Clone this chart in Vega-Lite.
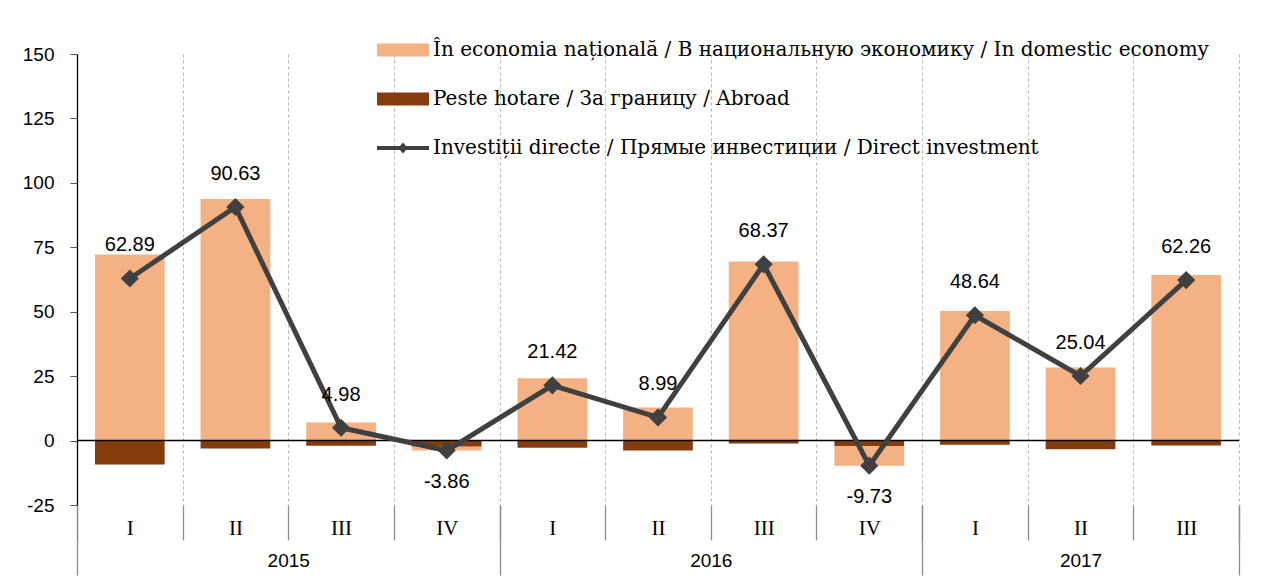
{
  "$schema": "https://vega.github.io/schema/vega-lite/v6.json",
  "width": 1162,
  "height": 451,
  "autosize": "none",
  "padding": {"left": 77, "top": 54, "right": 30, "bottom": 82},
  "background": "white",
  "config": {
    "view": {"stroke": null},
    "axisY": {"title": null}
  },
  "datasets": {
    "bars": [
      {"period": "2015-I", "series": "În economia națională / В национальную экономику / In domestic economy", "value": 72.2},
      {"period": "2015-I", "series": "Peste hotare / За границу / Abroad", "value": -9.31},
      {"period": "2015-II", "series": "În economia națională / В национальную экономику / In domestic economy", "value": 93.7},
      {"period": "2015-II", "series": "Peste hotare / За границу / Abroad", "value": -3.07},
      {"period": "2015-III", "series": "În economia națională / В национальную экономику / In domestic economy", "value": 7.0},
      {"period": "2015-III", "series": "Peste hotare / За границу / Abroad", "value": -2.02},
      {"period": "2015-IV", "series": "În economia națională / В национальную экономику / In domestic economy", "value": -1.56},
      {"period": "2015-IV", "series": "Peste hotare / За границу / Abroad", "value": -2.3},
      {"period": "2016-I", "series": "În economia națională / В национальную экономику / In domestic economy", "value": 24.2},
      {"period": "2016-I", "series": "Peste hotare / За границу / Abroad", "value": -2.78},
      {"period": "2016-II", "series": "În economia națională / В национальную экономику / In domestic economy", "value": 12.8},
      {"period": "2016-II", "series": "Peste hotare / За границу / Abroad", "value": -3.81},
      {"period": "2016-III", "series": "În economia națională / В национальную экономику / In domestic economy", "value": 69.5},
      {"period": "2016-III", "series": "Peste hotare / За границу / Abroad", "value": -1.13},
      {"period": "2016-IV", "series": "În economia națională / В национальную экономику / In domestic economy", "value": -7.6},
      {"period": "2016-IV", "series": "Peste hotare / За границу / Abroad", "value": -2.13},
      {"period": "2017-I", "series": "În economia națională / В национальную экономику / In domestic economy", "value": 50.3},
      {"period": "2017-I", "series": "Peste hotare / За границу / Abroad", "value": -1.66},
      {"period": "2017-II", "series": "În economia națională / В национальную экономику / In domestic economy", "value": 28.4},
      {"period": "2017-II", "series": "Peste hotare / За границу / Abroad", "value": -3.36},
      {"period": "2017-III", "series": "În economia națională / В национальную экономику / In domestic economy", "value": 64.2},
      {"period": "2017-III", "series": "Peste hotare / За границу / Abroad", "value": -1.94}
    ],
    "line": [
      {"period": "2015-I", "value": 62.89},
      {"period": "2015-II", "value": 90.63},
      {"period": "2015-III", "value": 4.98},
      {"period": "2015-IV", "value": -3.86},
      {"period": "2016-I", "value": 21.42},
      {"period": "2016-II", "value": 8.99},
      {"period": "2016-III", "value": 68.37},
      {"period": "2016-IV", "value": -9.73},
      {"period": "2017-I", "value": 48.64},
      {"period": "2017-II", "value": 25.04},
      {"period": "2017-III", "value": 62.26}
    ]
  },
  "resolve": {"axis": {"x": "independent"}},
  "layer": [
    {
      "data": {"name": "bars"},
      "mark": {"type": "bar", "width": {"band": 0.66}},
      "encoding": {
        "x": {
          "field": "period", "type": "nominal", "sort": null,
          "scale": {"paddingInner": 0, "paddingOuter": 0},
          "axis": {
            "title": null, "orient": "bottom", "domain": false,
            "tickBand": "extent", "tickSize": 35, "tickColor": "#8c8c8c", "tickWidth": 1.3,
            "grid": true, "gridDash": [3, 3], "gridColor": "#b4b4b4", "gridWidth": 1,
            "labelExpr": "datum.value ? split(datum.value, '-')[1] : ''",
            "labelFont": "Liberation Serif", "labelFontSize": 21, "labelColor": "black",
            "labelPadding": -23, "labelBaseline": "top", "labelAngle": 0, "labelOverlap": false
          }
        },
        "y": {
          "field": "value", "type": "quantitative", "stack": "zero",
          "scale": {"domain": [-25, 150], "nice": false, "zero": false},
          "axis": {
            "title": null, "values": [-25, 0, 25, 50, 75, 100, 125, 150],
            "labelExpr": "replace(datum.label, '−', '-')",
            "grid": false, "domainColor": "black", "domainWidth": 1.3,
            "tickColor": "#555555", "tickSize": 7, "tickWidth": 1,
            "labelFont": "Liberation Sans", "labelFontSize": 19, "labelColor": "black", "labelPadding": 16
          }
        },
        "order": {"field": "series", "sort": "ascending"},
        "color": {
          "field": "series", "type": "nominal",
          "scale": {
            "domain": [
              "În economia națională / В национальную экономику / In domestic economy",
              "Peste hotare / За границу / Abroad",
              "Investiții directe / Прямые инвестиции / Direct investment"
            ],
            "range": ["#F4B183", "#843C0C", "#404040"]
          },
          "legend": {
            "orient": "none", "legendX": 313, "legendY": -17, "title": null, "padding": 0,
            "symbolSize": 676, "rowPadding": 26, "labelOffset": 17, "labelLimit": 1000,
            "labelFont": "DejaVu Serif", "labelFontSize": 20, "labelColor": "black",
            "encode": {
              "symbols": {
                "update": {
                  "shape": {"signal": "indexof(datum.value, 'Direct investment') >= 0 ? 'M-2,-0.16H2V0.16H-2ZM0,-0.42L0.36,0L0,0.42L-0.36,0Z' : 'M-2,-0.5H2V0.5H-2Z'"},
                  "fill": {"scale": "color", "field": "value"},
                  "stroke": {"value": "transparent"},
                  "strokeWidth": {"value": 0},
                  "opacity": {"value": 1}
                }
              }
            }
          }
        }
      }
    },
    {
      "data": {"values": [{}]},
      "mark": {"type": "rule", "color": "black", "strokeWidth": 1.5},
      "encoding": {"y": {"datum": 0}}
    },
    {
      "data": {"name": "line"},
      "mark": {
        "type": "line", "color": "#404040", "strokeWidth": 5,
        "point": {"shape": "diamond", "size": 330, "filled": true, "color": "#404040", "opacity": 1}
      },
      "encoding": {
        "x": {
          "field": "period", "type": "nominal", "sort": null,
          "axis": {
            "title": null, "orient": "bottom", "domain": false, "grid": false,
            "tickBand": "extent", "tickSize": 70, "tickColor": "#8c8c8c", "tickWidth": 1.3,
            "tickOpacity": {"condition": {"test": "datum.extra || indexof(['2015-IV', '2016-IV', '2017-III'], datum.value) >= 0", "value": 1}, "value": 0},
            "labelExpr": "datum.value == '2015-II' ? '2015' : datum.value == '2016-II' ? '2016' : datum.value == '2017-II' ? '2017' : ''",
            "labelOffset": {"condition": {"test": "datum.value == '2015-II' || datum.value == '2016-II'", "value": 52.8}, "value": 0},
            "labelFont": "Liberation Sans", "labelFontSize": 19, "labelColor": "black",
            "labelPadding": -24, "labelBaseline": "top", "labelAngle": 0, "labelOverlap": false
          }
        },
        "y": {"field": "value", "type": "quantitative"}
      }
    },
    {
      "data": {"name": "line"},
      "transform": [
        {"filter": "datum.value >= 0"},
        {"calculate": "format(datum.value, '.2f')", "as": "label"}
      ],
      "mark": {"type": "text", "dy": -33, "font": "Liberation Sans", "fontSize": 20, "color": "black"},
      "encoding": {
        "x": {"field": "period", "type": "nominal", "sort": null, "axis": null},
        "y": {"field": "value", "type": "quantitative"},
        "text": {"field": "label", "type": "nominal"}
      }
    },
    {
      "data": {"name": "line"},
      "transform": [
        {"filter": "datum.value < 0"},
        {"calculate": "replace(format(datum.value, '.2f'), '−', '-')", "as": "label"}
      ],
      "mark": {"type": "text", "dy": 31, "font": "Liberation Sans", "fontSize": 20, "color": "black"},
      "encoding": {
        "x": {"field": "period", "type": "nominal", "sort": null, "axis": null},
        "y": {"field": "value", "type": "quantitative"},
        "text": {"field": "label", "type": "nominal"}
      }
    }
  ]
}
